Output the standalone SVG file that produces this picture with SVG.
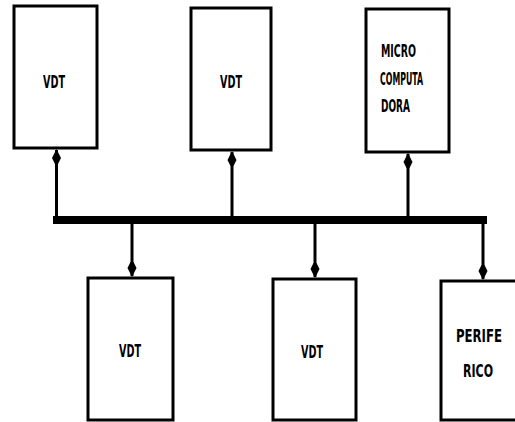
<svg xmlns="http://www.w3.org/2000/svg" xmlns:xlink="http://www.w3.org/1999/xlink" width="515" height="422" viewBox="0 0 515 422">
<style>
.box{fill:#fff;stroke:#000;stroke-width:3}
.lbl{font-family:"DejaVu Sans Condensed","DejaVu Sans",sans-serif;font-weight:bold;font-size:17px;fill:#000}
.ln{stroke:#000;stroke-width:3;fill:none}
.bus{stroke:#000;stroke-width:8;fill:none;stroke-linecap:square}
</style>
<defs>
<path id="ah" d="M0,0 L4.5,9 L1.5,15 L-1.5,15 L-4.5,9 Z" fill="#000"/>
</defs>
<rect width="515" height="422" fill="#fff"/>
<g id="connectors">
<line class="bus" x1="57" y1="220" x2="483" y2="220"/>
<line class="ln" x1="56.5" y1="150" x2="56.5" y2="220"/>
<line class="ln" x1="232" y1="152" x2="232" y2="220"/>
<line class="ln" x1="408" y1="154" x2="408" y2="220"/>
<line class="ln" x1="132" y1="220" x2="132" y2="276"/>
<line class="ln" x1="315" y1="220" x2="315" y2="277"/>
<line class="ln" x1="483" y1="216" x2="483" y2="279"/>
<use xlink:href="#ah" x="56.5" y="149"/>
<use xlink:href="#ah" x="232" y="151"/>
<use xlink:href="#ah" x="408" y="153"/>
<use xlink:href="#ah" transform="translate(132,277) rotate(180)"/>
<use xlink:href="#ah" transform="translate(315,278) rotate(180)"/>
<use xlink:href="#ah" transform="translate(483,280) rotate(180)"/>
</g>
<g id="vdt1">
<rect class="box" x="14" y="6" width="83" height="142"/>
<text class="lbl" x="54" y="88" text-anchor="middle" textLength="22" lengthAdjust="spacingAndGlyphs">VDT</text>
</g>
<g id="vdt2">
<rect class="box" x="191" y="8" width="80" height="142"/>
<text class="lbl" x="231" y="88" text-anchor="middle" textLength="22" lengthAdjust="spacingAndGlyphs">VDT</text>
</g>
<g id="microcomputadora">
<rect class="box" x="366" y="9" width="83" height="143"/>
<text class="lbl" x="381" y="57" textLength="35" lengthAdjust="spacingAndGlyphs">MICRO</text>
<text class="lbl" x="380" y="85" textLength="43" lengthAdjust="spacingAndGlyphs">COMPUTA</text>
<text class="lbl" x="381" y="112" textLength="29" lengthAdjust="spacingAndGlyphs">DORA</text>
</g>
<g id="vdt3">
<rect class="box" x="88" y="278" width="85" height="142"/>
<text class="lbl" x="130" y="357" text-anchor="middle" textLength="22" lengthAdjust="spacingAndGlyphs">VDT</text>
</g>
<g id="vdt4">
<rect class="box" x="273" y="279" width="83" height="141"/>
<text class="lbl" x="312" y="358" text-anchor="middle" textLength="22" lengthAdjust="spacingAndGlyphs">VDT</text>
</g>
<g id="periferico">
<path class="ln" d="M515,281 H441 V420 H515"/>
<text class="lbl" x="456" y="342" textLength="46" lengthAdjust="spacingAndGlyphs">PERIFE</text>
<text class="lbl" x="463" y="377" textLength="30" lengthAdjust="spacingAndGlyphs">RICO</text>
</g>
</svg>
